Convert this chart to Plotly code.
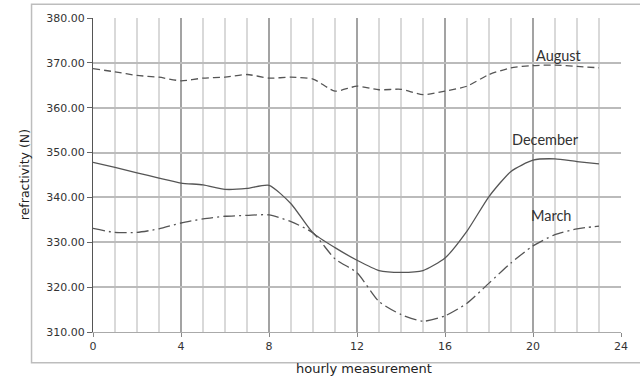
import plotly.graph_objects as go

hours = list(range(24))
august = [368.7, 368.0, 367.2, 366.8, 366.0, 366.6, 366.8, 367.4, 366.6, 366.8, 366.4, 363.7,
          364.8, 364.0, 364.1, 362.9, 363.7, 364.8, 367.4, 368.9, 369.4, 369.5, 369.2, 368.9]
december = [347.8, 346.7, 345.5, 344.3, 343.2, 342.8, 341.8, 342.0, 342.7, 338.6, 332.1, 328.8,
            326.0, 323.7, 323.3, 323.7, 326.5, 332.5, 340.2, 345.8, 348.3, 348.6, 348.0, 347.5]
march = [333.1, 332.2, 332.2, 333.0, 334.3, 335.2, 335.8, 336.0, 336.1, 334.6, 332.1, 326.3,
         323.2, 316.8, 313.9, 312.4, 313.6, 316.4, 320.9, 325.4, 329.2, 331.7, 333.0, 333.6]
series_names = ["August", "December", "March"]
label_pos = [(21.2, 371.6), (20.55, 352.9), (20.8, 335.9)]
x_ticks = [0, 4, 8, 12, 16, 20, 24]
y_ticks = [310, 320, 330, 340, 350, 360, 370, 380]

line_col = "#555555"
fig = go.Figure()
styles = ["7px,4px", "solid", "12px,4px,2px,4px"]
for name, vals, dash in zip(series_names, [august, december, march], styles):
    fig.add_trace(go.Scatter(x=hours, y=vals, mode="lines", name=name,
                             line=dict(color=line_col, width=1.3, dash=dash,
                                       shape="spline", smoothing=0.6)))

for name, (lx, ly) in zip(series_names, label_pos):
    fig.add_annotation(x=lx, y=ly, text=name, showarrow=False,
                       font=dict(family="Lato, Carlito, sans-serif", size=14.5, color="#333333"))

fig.add_annotation(xref="paper", yref="paper", x=0.513, y=-0.1454, text="hourly measurement",
                   showarrow=False, font=dict(family="DejaVu Sans", size=13, color="#222222"))
fig.add_annotation(xref="paper", yref="paper", x=-0.148, y=0.5005, text="refractivity (N)",
                   textangle=-90, showarrow=False,
                   font=dict(family="DejaVu Sans", size=12.5, color="#222222"))

fig.add_shape(type="rect", xref="paper", yref="paper", x0=-0.1164, x1=1.05, y0=-0.0977, y1=1.0436,
              line=dict(color="#bdbdbd", width=1.5), layer="below")

fig.update_layout(
    width=640, height=389,
    margin=dict(l=93, r=17, t=18, b=57),
    paper_bgcolor="white", plot_bgcolor="white",
    showlegend=False,
    font=dict(family="DejaVu Sans", size=11, color="#333333"),
    xaxis=dict(range=[0, 24], tickvals=x_ticks, ticktext=[str(t) for t in x_ticks],
               showgrid=True, gridcolor="#a3a3a3", gridwidth=1.5,
               minor=dict(dtick=1, tick0=0, showgrid=True, gridcolor="#d9d9d9", gridwidth=1.5),
               ticks="outside", ticklen=4, tickcolor="#888888",
               showline=True, linecolor="#aaaaaa", zeroline=False,
               tickfont=dict(family="DejaVu Sans", size=11, color="#333333")),
    yaxis=dict(range=[310, 380], tickvals=y_ticks, ticktext=[f"{t:.2f}" for t in y_ticks],
               showgrid=True, gridcolor="#bbbbbb", gridwidth=1.5,
               ticks="outside", ticklen=5, tickcolor="#666666",
               showline=True, linecolor="#555555", zeroline=False,
               tickfont=dict(family="DejaVu Sans", size=11, color="#333333")),
)

fig.write_html("out.html", config={"displayModeBar": False},
               post_script="document.body.style.margin='0';")
